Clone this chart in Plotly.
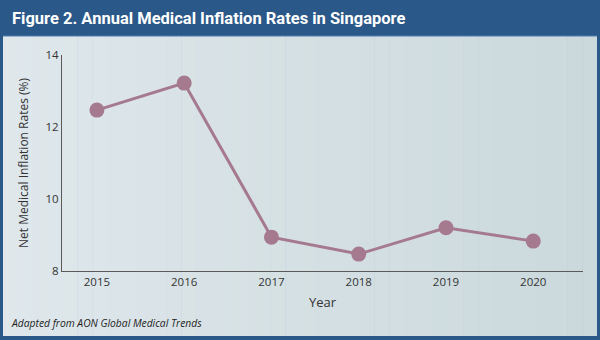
import plotly.graph_objects as go

years = [2015, 2016, 2017, 2018, 2019, 2020]
rates = [12.47, 13.22, 8.94, 8.47, 9.2, 8.83]
y_ticks = [8, 10, 12, 14]
x_ticks = years

W, H = 600, 340
L, R, T, B = 62, 583, 55, 271

def px(x):
    return (x - L) / (R - L)

def py(y):
    return (B - y) / (B - T)

fig = go.Figure()
fig.add_trace(go.Scatter(
    x=years, y=rates, mode="lines+markers",
    line=dict(color="#a67a8e", width=3),
    marker=dict(color="#a67a8e", size=15),
    cliponaxis=False, showlegend=False,
))

shapes = []
# panel gradient strips
n = 40
x0p, x1p = 3, 597
c0 = (0xdf, 0xe7, 0xeb)
c1 = (0xcb, 0xd9, 0xdc)
for i in range(n):
    a = x0p + (x1p - x0p) * i / n
    b = x0p + (x1p - x0p) * (i + 1) / n + 0.6
    t = i / (n - 1)
    c = tuple(round(c0[k] + (c1[k] - c0[k]) * t) for k in range(3))
    shapes.append(dict(type="rect", xref="paper", yref="paper",
                       x0=px(a), x1=px(min(b, x1p)), y0=py(336), y1=py(36),
                       fillcolor="rgb(%d,%d,%d)" % c, line=dict(width=0), layer="below"))
# thin line under title bar
shapes.append(dict(type="line", xref="paper", yref="paper",
                   x0=px(3), x1=px(597), y0=py(36), y1=py(36),
                   line=dict(color="#4f7fae", width=1), layer="below"))

fig.update_layout(
    width=W, height=H,
    margin=dict(l=L, r=W - R, t=T, b=H - B),
    paper_bgcolor="#2a5888",
    plot_bgcolor="rgba(0,0,0,0)",
    shapes=shapes,
    font=dict(family="Open Sans, Lato, sans-serif", color="#333333", size=12),
    xaxis=dict(range=[2014.6, 2020.57], tickvals=x_ticks, ticktext=[str(v) for v in x_ticks],
               showgrid=False, zeroline=False, showline=True, linecolor="#5a5a5a", linewidth=1.3,
               ticks="", tickfont=dict(size=11.5, color="#333333"),
               title=dict(text="Year", font=dict(size=13, color="#333333"), standoff=9)),
    yaxis=dict(range=[8, 14], tickvals=y_ticks,
               showgrid=False, zeroline=False, showline=True, linecolor="#5a5a5a", linewidth=1.3,
               ticks="", tickfont=dict(size=11.5, color="#333333"),
               title=dict(text="Net Medical Inflation Rates (%)", font=dict(size=12, color="#333333"), standoff=14)),
    annotations=[
        dict(text="<b>Figure 2. Annual Medical Inflation Rates in Singapore</b>",
             xref="paper", yref="paper", x=px(10), y=py(18), xanchor="left", yanchor="middle",
             showarrow=False, font=dict(family="Liberation Sans Narrow, Roboto, sans-serif", size=16.5, color="white")),
        dict(text="<i>Adapted from AON Global Medical Trends</i>",
             xref="paper", yref="paper", x=px(9), y=py(323), xanchor="left", yanchor="middle",
             showarrow=False, font=dict(family="Open Sans, Lato, sans-serif", size=10.3, color="#1e1e1e")),
    ],
)

fig.write_html("out.html")
